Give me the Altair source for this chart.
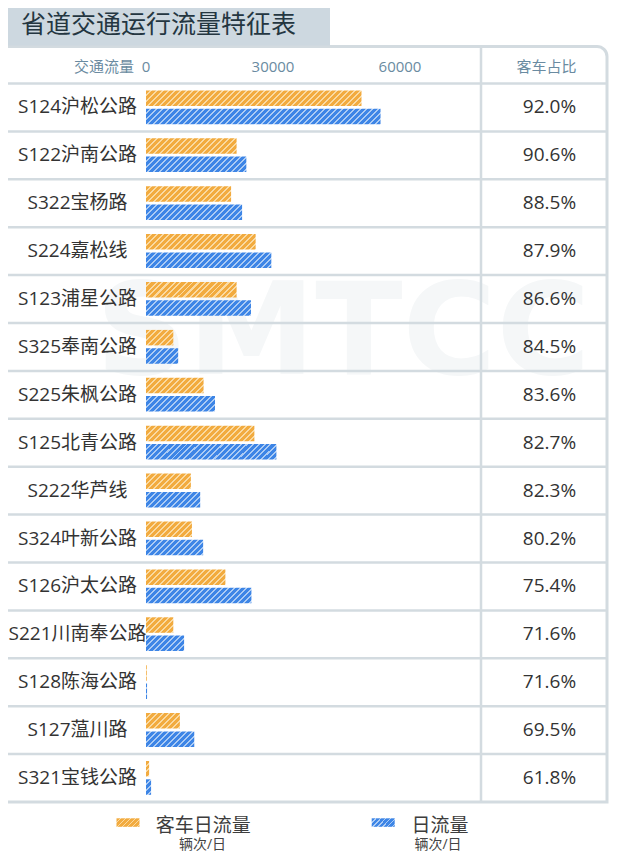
import altair as alt

# ---------------- data ----------------
roads = ["S124沪松公路", "S122沪南公路", "S322宝杨路", "S224嘉松线", "S123浦星公路",
         "S325奉南公路", "S225朱枫公路", "S125北青公路", "S222华芦线", "S324叶新公路",
         "S126沪太公路", "S221川南奉公路", "S128陈海公路", "S127蕰川路", "S321宝钱公路"]
passenger_flow = [50900, 21400, 20100, 25900, 21400, 6450, 13600, 25600, 10600, 10850,
                  18750, 6450, 180, 8000, 740]
daily_flow = [55400, 23700, 22700, 29600, 24800, 7600, 16300, 30800, 12800, 13500,
              24900, 9000, 250, 11400, 1200]
passenger_share = [92.0, 90.6, 88.5, 87.9, 86.6, 84.5, 83.6, 82.7, 82.3, 80.2,
                   75.4, 71.6, 71.6, 69.5, 61.8]
tick_values = [0, 30000, 60000]
title_text = "省道交通运行流量特征表"
legend_names = ["客车日流量", "日流量"]
legend_unit = "辆次/日"

# ---------------- style ----------------
W, H = 601, 848
X0, X1 = 138, 392          # pixel range of 0..60000
DMAX = 60000
ROW_TOP, ROW_BOT = 75.5, 794
BAR_H = 15.5
ORANGE, ORANGE_L = "#F2AB3F", "#FADAA2"
BLUE, BLUE_L = "#3D85E6", "#ABCBF4"
LINE = "#D3DBE0"
FONT = "Open Sans, Noto Sans CJK SC"
HEAD = "#6A8BA1"


def hatch(w, h, base, light, period=6.0, light_w=2.0):
    w = max(w, 0.05)
    s = w + h
    d = w * w + h * h
    stops = []
    t = 0.0
    while t < s:
        b = min(t + period - light_w, s)
        c = min(t + period, s)
        stops.append({"offset": round(t / s, 5), "color": base})
        stops.append({"offset": round(b / s, 5), "color": base})
        if b < s:
            stops.append({"offset": round(b / s, 5), "color": light})
            stops.append({"offset": round(c / s, 5), "color": light})
        t += period
    return {"gradient": "linear", "x1": 0, "y1": 0,
            "x2": round(s * w / d, 5), "y2": round(s * h / d, 5), "stops": stops}


px = (X1 - X0) / DMAX
orange_rows = [{"road": r, "value": v, "grad": hatch(v * px, BAR_H, ORANGE, ORANGE_L)}
               for r, v in zip(roads, passenger_flow)]
blue_rows = [{"road": r, "value": v, "grad": hatch(v * px, BAR_H, BLUE, BLUE_L)}
             for r, v in zip(roads, daily_flow)]
share_rows = [{"road": r, "share": s} for r, s in zip(roads, passenger_share)]
road_rows = [{"road": r} for r in roads]
tick_rows = [{"tick": t} for t in tick_values]

yscale = alt.Scale(domain=roads, range=[ROW_TOP, ROW_BOT], paddingInner=0, paddingOuter=0)
xscale = alt.Scale(domain=[0, DMAX], range=[X0, X1], nice=False, zero=True)


def Y(**kw):
    return alt.Y("road:N", sort=roads, scale=yscale, axis=None, **kw)


def V(v):
    return alt.value(v)


base = alt.Chart(alt.Data(values=[{"k": 1}]))

table = base.mark_rect(fill="white", stroke=LINE, strokeWidth=3, cornerRadiusTopRight=10).encode(
    x=V(-10), x2=V(599), y=V(38.5), y2=V(ROW_BOT))
tab = base.mark_rect(fill="#CDD8E0", cornerRadiusTopRight=12).encode(
    x=V(-10), x2=V(322), y=V(-12), y2=V(37.5))
watermark = base.mark_text(text="SMTCC", font="DejaVu Sans", fontWeight="bold", fontSize=128,
                           fill="#F5F7F8", align="center", baseline="middle").encode(
    x=V(335), y=V(328))
title = base.mark_text(text=title_text, font=FONT, fontSize=25, color="#243641",
                       align="left", baseline="middle").encode(x=V(13), y=V(17))

seps = alt.Chart(alt.Data(values=road_rows)).mark_rule(color=LINE, strokeWidth=2.5).encode(
    y=Y(bandPosition=0), x=V(-10), x2=V(599))
divider = base.mark_rule(color=LINE, strokeWidth=2.5).encode(x=V(473), y=V(38.5), y2=V(ROW_BOT))

bars_o = alt.Chart(alt.Data(values=orange_rows)).mark_bar(size=BAR_H, yOffset=-9.3).encode(
    y=Y(), x=alt.X("value:Q", scale=xscale, axis=None),
    fill=alt.Fill("grad:N", scale=None, legend=None))
bars_b = alt.Chart(alt.Data(values=blue_rows)).mark_bar(size=BAR_H, yOffset=9.0).encode(
    y=Y(), x=alt.X("value:Q", scale=xscale, axis=None),
    fill=alt.Fill("grad:N", scale=None, legend=None))

labels = alt.Chart(alt.Data(values=road_rows)).mark_text(
    font=FONT, fontSize=19, color="#333333", align="center", baseline="middle").encode(
    y=Y(), x=V(69.5), text="road:N")

share_text = alt.Chart(alt.Data(values=share_rows)).transform_calculate(
    lab="format(datum.share, '.1f') + '%'").mark_text(
    font=FONT, fontSize=19, color="#333333", align="center", baseline="middle").encode(
    y=Y(), x=V(541.5), text="lab:N")

ticks = alt.Chart(alt.Data(values=tick_rows)).mark_text(
    font=FONT, fontSize=15, color=HEAD, align="center", baseline="middle").encode(
    x=alt.X("tick:Q", scale=xscale, axis=None), y=V(58.7), text=alt.Text("tick:Q", format="d"))
head1 = base.mark_text(text="交通流量", font=FONT, fontSize=15, color=HEAD,
                       align="right", baseline="middle").encode(x=V(126), y=V(58.7))
head2 = base.mark_text(text="客车占比", font=FONT, fontSize=15, color=HEAD,
                       align="center", baseline="middle").encode(x=V(538.5), y=V(58.7))

sw_o = base.mark_rect(fill=hatch(23, 8.5, ORANGE, ORANGE_L, period=5.0, light_w=1.7)).encode(
    x=V(108.5), x2=V(131.5), y=V(810.3), y2=V(818.8))
sw_b = base.mark_rect(fill=hatch(23, 8.5, BLUE, BLUE_L, period=5.0, light_w=1.7)).encode(
    x=V(363.7), x2=V(386.7), y=V(810.3), y2=V(818.8))
leg1 = base.mark_text(text=legend_names[0], font=FONT, fontSize=19, color="#3D3D3D",
                      align="center", baseline="middle").encode(x=V(195.3), y=V(818))
leg2 = base.mark_text(text=legend_names[1], font=FONT, fontSize=19, color="#3D3D3D",
                      align="center", baseline="middle").encode(x=V(432), y=V(818))
unit1 = base.mark_text(text=legend_unit, font=FONT, fontSize=14, color="#444444",
                       align="center", baseline="middle").encode(x=V(194.5), y=V(836.5))
unit2 = base.mark_text(text=legend_unit, font=FONT, fontSize=14, color="#444444",
                       align="center", baseline="middle").encode(x=V(430), y=V(836.5))

chart = alt.layer(
    table, tab, watermark, title, seps, divider, bars_o, bars_b,
    labels, share_text, ticks, head1, head2, sw_o, sw_b, leg1, leg2, unit1, unit2
).properties(
    width=W, height=H, padding=0, background="white",
    autosize=alt.AutoSizeParams(type="none")
).configure_view(strokeWidth=0)

chart.save("out.html", embed_options={"renderer": "svg", "actions": False})
